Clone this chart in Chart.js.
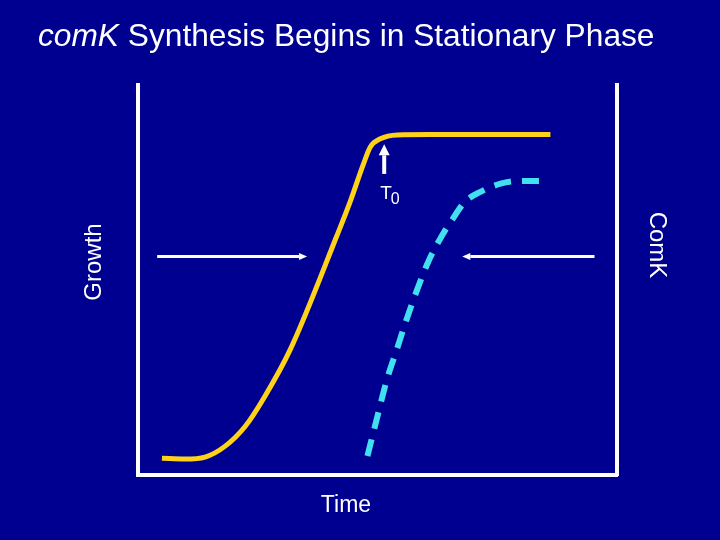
<!DOCTYPE html>
<html>
<head>
<meta charset="utf-8">
<script src="https://cdn.jsdelivr.net/npm/chart.js@4/dist/chart.umd.min.js"></script>
<style>
  html, body { margin: 0; padding: 0; background: #000090; }
  #wrap { width: 720px; height: 540px; }
</style>
</head>
<body>
<div id="wrap"><canvas id="chart" width="720" height="540"></canvas></div>
<script>
// growth curve (yellow), time vs. growth, arbitrary units 0-100
const growthTime = [5.0, 9.8, 14.0, 18.2, 22.4, 26.5, 31.8, 41.6, 44.3, 47.0, 48.5, 50.6, 54.1, 61.0, 86.1];
const growthLevel = [4.3, 4.1, 4.6, 7.4, 12.5, 20.2, 32.2, 61.6, 70.1, 79.5, 84.1, 86.2, 87.2, 87.3, 87.3];

// ComK synthesis (cyan dashed)
const comkTime = [47.9, 49.9, 52.0, 53.9, 55.8, 58.3, 60.6, 63.1, 65.6, 68.3, 71.5, 75.7, 79.9, 84.1];
const comkLevel = [4.9, 14.6, 24.6, 31.7, 38.9, 47.6, 54.7, 60.6, 65.5, 70.1, 72.6, 74.7, 75.4, 75.4];

// T0 marker time and the arrows (data units)
const t0Time = 51.4;
const arrows = [
  { from: [4.0, 56.0], to: [35.3, 56.0] },
  { from: [95.3, 56.0], to: [67.7, 56.0] },
  { from: [t0Time, 77.2], to: [t0Time, 84.8] }
];

function toPoints(xs, ys) {
  return xs.map(function(x, i) { return { x: x, y: ys[i] }; });
}

const WHITE = '#ffffff';
const FONT = '"Liberation Sans", Arial, sans-serif';

function drawArrow(ctx, x1, y1, x2, y2, shaft, headLen, headW) {
  const ang = Math.atan2(y2 - y1, x2 - x1);
  const bx = x2 - Math.cos(ang) * headLen;
  const by = y2 - Math.sin(ang) * headLen;
  ctx.strokeStyle = WHITE;
  ctx.fillStyle = WHITE;
  ctx.lineWidth = shaft;
  ctx.lineCap = 'butt';
  ctx.beginPath();
  ctx.moveTo(x1, y1);
  ctx.lineTo(bx, by);
  ctx.stroke();
  ctx.beginPath();
  ctx.moveTo(x2, y2);
  ctx.lineTo(bx + Math.sin(ang) * headW / 2, by - Math.cos(ang) * headW / 2);
  ctx.lineTo(bx - Math.sin(ang) * headW / 2, by + Math.cos(ang) * headW / 2);
  ctx.closePath();
  ctx.fill();
}

const decorations = {
  id: 'decorations',
  afterDatasetsDraw(chart) {
    const ctx = chart.ctx;
    const xs = chart.scales.x, ys = chart.scales.y;
    ctx.save();

    // arrows
    arrows.forEach(function(a) {
      const vertical = a.from[0] === a.to[0];
      drawArrow(ctx,
        xs.getPixelForValue(a.from[0]), ys.getPixelForValue(a.from[1]),
        xs.getPixelForValue(a.to[0]), ys.getPixelForValue(a.to[1]),
        vertical ? 4 : 3, vertical ? 11 : 8, vertical ? 11 : 7);
    });

    // T0 label
    ctx.fillStyle = WHITE;
    ctx.textBaseline = 'alphabetic';
    ctx.textAlign = 'left';
    const tx = xs.getPixelForValue(t0Time) - 4;
    const ty = ys.getPixelForValue(70.8);
    ctx.font = '19px ' + FONT;
    ctx.fillText('T', tx, ty);
    const tw = ctx.measureText('T').width;
    ctx.font = '16px ' + FONT;
    ctx.fillText('0', tx + tw - 1, ty + 5);

    // title with italic gene name
    ctx.font = 'italic 31.7px ' + FONT;
    ctx.fillText('comK', 38, 46);
    const gw = ctx.measureText('comK').width;
    ctx.font = '31.7px ' + FONT;
    ctx.fillText(' Synthesis Begins in Stationary Phase', 38 + gw, 46);

    // axis labels
    ctx.font = '23px ' + FONT;
    ctx.textAlign = 'center';
    ctx.fillText('Time', 346, 512);

    ctx.save();
    ctx.translate(101, 262);
    ctx.rotate(-Math.PI / 2);
    ctx.font = '24px ' + FONT;
    ctx.fillText('Growth', 0, 0);
    ctx.restore();

    ctx.save();
    ctx.translate(650, 245);
    ctx.rotate(Math.PI / 2);
    ctx.font = '24px ' + FONT;
    ctx.fillText('ComK', 0, 0);
    ctx.restore();

    ctx.restore();
  }
};

const ctx = document.getElementById('chart').getContext('2d');
const chart = new Chart(ctx, {
  type: 'line',
  data: {
    datasets: [{
      label: 'Growth',
      data: toPoints(growthTime, growthLevel),
      borderColor: '#ffd21a',
      borderWidth: 5,
      pointRadius: 0,
      cubicInterpolationMode: 'monotone',
      fill: false
    }, {
      label: 'ComK',
      data: toPoints(comkTime, comkLevel),
      borderColor: '#40e0f0',
      borderWidth: 6,
      borderDash: [17, 11],
      borderCapStyle: 'butt',
      pointRadius: 0,
      cubicInterpolationMode: 'monotone',
      fill: false
    }]
  },
  options: {
    responsive: false,
    animation: false,
    layout: { padding: { left: 130, right: 95, top: 85, bottom: 57 } },
    plugins: {
      legend: { display: false },
      tooltip: { enabled: false }
    },
    scales: {
      x: {
        type: 'linear',
        min: 0,
        max: 100,
        grid: { display: false },
        ticks: { display: false },
        border: { display: true, color: WHITE, width: 4 }
      },
      y: {
        min: 0,
        max: 100,
        grid: { display: false },
        ticks: { display: false },
        border: { display: true, color: WHITE, width: 4 }
      },
      y2: {
        position: 'right',
        min: 0,
        max: 100,
        grid: { display: false },
        ticks: { display: false },
        border: { display: true, color: WHITE, width: 4 }
      }
    }
  },
  plugins: [decorations]
});
</script>
</body>
</html>
